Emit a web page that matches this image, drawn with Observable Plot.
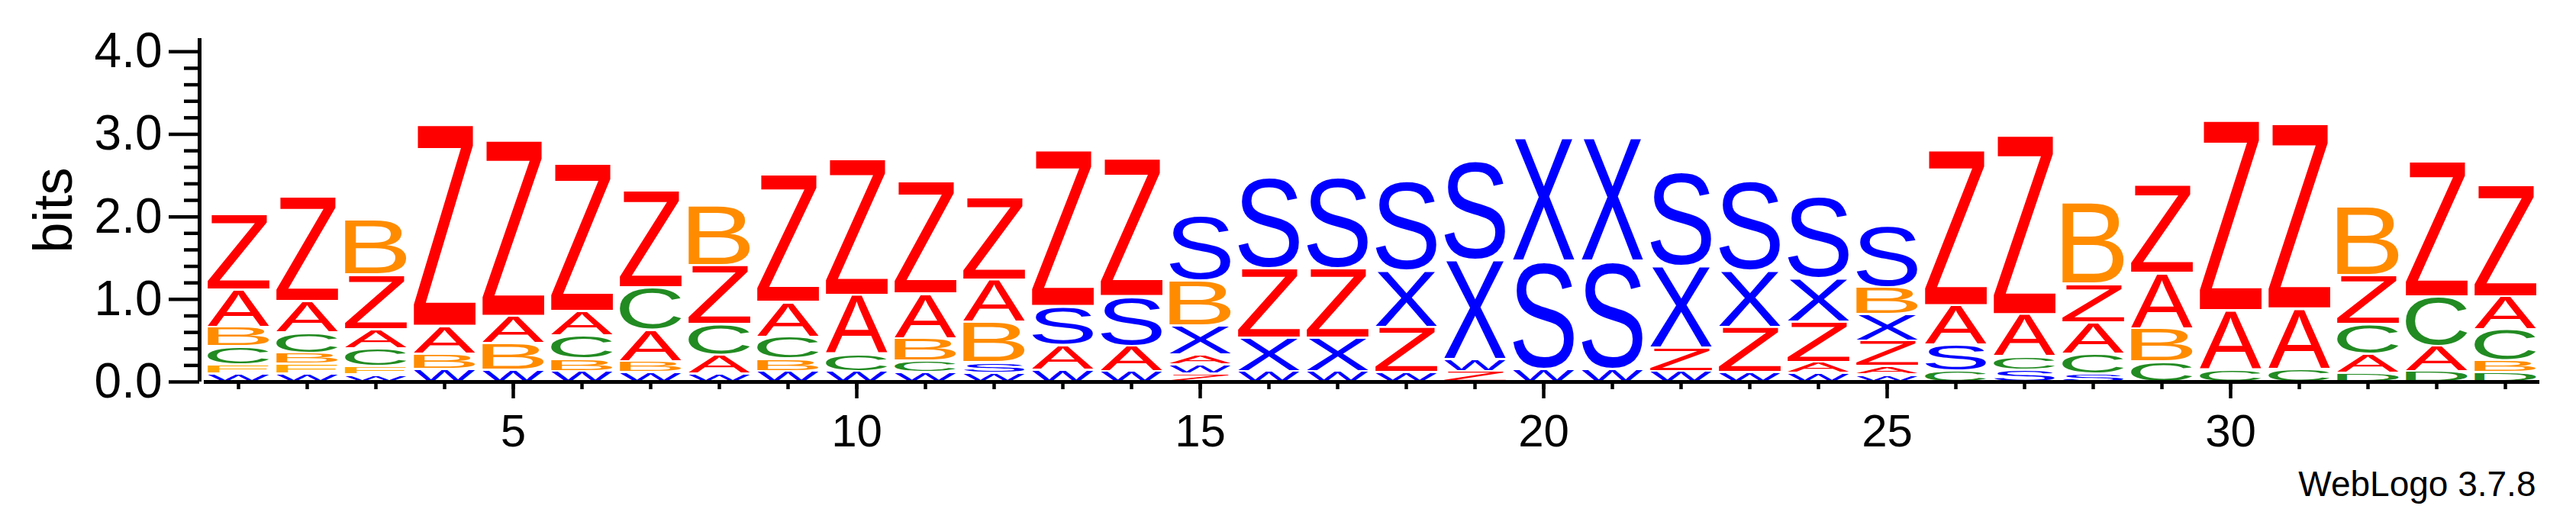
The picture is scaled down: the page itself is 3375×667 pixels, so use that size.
<!DOCTYPE html>
<html><head><meta charset="utf-8">
<script src="https://cdn.jsdelivr.net/npm/d3@7"></script>
<script src="https://cdn.jsdelivr.net/npm/@observablehq/plot@0.6"></script>
<style>
html,body{margin:0;padding:0;background:#fff;}
svg{display:block;}
</style></head><body>
<div id="chart"></div>
<script>
// sequence positions
const positions = [1,2,3,4,5,6,7,8,9,10,11,12,13,14,15,16,17,18,19,20,21,22,23,24,25,26,27,28,29,30,31,32,33,34];
// letter heights in bits, one value per position (0 = letter absent)
const heightsA = [0.45,0.38,0.23,0.34,0.33,0.30,0.38,0.23,0.42,0.71,0.54,0.51,0.30,0.31,0.12,0,0,0,0,0,0,0,0,0.13,0.10,0.48,0.51,0.38,0.67,0.72,0.73,0.23,0.31,0.40];
const heightsB = [0.24,0.13,0.67,0.18,0.32,0.15,0.13,0.72,0.15,0,0.27,0.49,0,0,0.55,0,0,0,0,0,0,0,0,0,0.33,0,0,0.99,0.40,0,0,0.83,0,0.14];
const heightsC = [0.22,0.25,0.22,0,0,0.28,0.52,0.37,0.27,0.21,0.14,0,0,0,0,0,0,0,0,0,0,0,0,0,0,0.13,0.16,0.24,0.25,0.15,0.16,0.36,0.60,0.38];
const heightsD = [0,0,0,0,0,0,0,0,0,0,0,0,0,0,0,0,0,0,0,0,0,0,0,0,0,0,0,0,0,0,0,0.11,0.13,0.12];
const heightsF = [0.11,0.12,0.10,0,0,0,0,0,0,0,0,0,0,0,0,0,0,0,0,0,0,0,0,0,0,0,0,0,0,0,0,0,0,0];
const heightsS = [0,0,0,0,0,0,0,0,0,0,0,0.13,0.47,0.60,0.79,1.11,1.11,1.10,1.22,1.31,1.31,1.15,1.10,1.00,0.76,0.32,0.15,0.10,0,0,0,0,0,0];
const heightsW = [0.10,0.10,0.09,0.16,0.15,0.13,0.12,0.10,0.13,0.13,0.12,0.11,0.15,0.13,0.11,0.13,0.13,0.12,0.15,0.16,0.16,0.13,0.12,0.11,0.09,0,0,0,0,0,0,0,0,0];
const heightsX = [0,0,0,0,0,0,0,0,0,0,0,0,0,0,0.35,0.41,0.41,0.68,1.20,1.49,1.49,0.99,0.68,0.52,0.32,0,0,0,0,0,0,0,0,0];
const heightsZ = [0.91,1.27,0.66,2.44,2.13,1.79,1.18,0.71,1.55,1.65,1.36,1.00,1.89,1.67,0.10,0.84,0.84,0.55,0.13,0,0,0.29,0.55,0.49,0.31,1.88,2.17,0.47,1.07,2.30,2.24,0.59,1.64,1.35];
// letter colours
const letterColors = {A:"#ff0000", Z:"#ff0000", B:"#ff8c00", F:"#ffa500", C:"#228b22", D:"#228b22", S:"#0000ff", W:"#0000ff", X:"#0000ff"};
// ticks and texts
const xMajorTicks = [5,10,15,20,25,30];
const yMajorTicks = [0,1,2,3,4];
const yMinorTicks = [0.2,0.4,0.6,0.8,1.2,1.4,1.6,1.8,2.2,2.4,2.6,2.8,3.2,3.4,3.6,3.8];
const yLabel = "bits";
const caption = "WebLogo 3.7.8";

const FONT = "'Liberation Sans', Arial, Helvetica, sans-serif";
const series = {A: heightsA, B: heightsB, C: heightsC, D: heightsD, F: heightsF, S: heightsS, W: heightsW, X: heightsX, Z: heightsZ};
const cells = [];
positions.forEach((p, i) => {
  const stack = Object.keys(series)
    .map(k => ({letter: k, h: series[k][i]}))
    .filter(d => d.h > 0)
    .sort((a, b) => a.h - b.h);
  let y = 0;
  for (const d of stack) { cells.push({pos: p, letter: d.letter, y1: y, y2: y + d.h}); y += d.h; }
});

const plot = Plot.plot({
  width: 3375, height: 667,
  marginLeft: 267, marginRight: 48, marginTop: 50, marginBottom: 167,
  style: {fontFamily: FONT, background: "#fff", color: "#000", overflow: "visible"},
  x: {type: "linear", domain: [0.5, 34.5]},
  y: {domain: [0, 4.16]},
  color: {type: "identity"},
  marks: [
    Plot.text(cells, {x: "pos", y: d => (d.y1 + d.y2) / 2, text: "letter", fill: d => letterColors[d.letter], fontSize: 100, fontFamily: FONT}),
    Plot.ruleY([0], {x1: 0.5, x2: 34.5, stroke: "#000", strokeWidth: 5}),
    Plot.ruleX([0.5], {y1: 0, y2: 4.16, dx: -6, stroke: "#000", strokeWidth: 5}),
    Plot.axisY(yMinorTicks, {tickSize: 20, tickFormat: () => "", dx: -6, strokeWidth: 4.5, label: null}),
    Plot.axisY(yMajorTicks, {tickSize: 40, tickPadding: 9, tickFormat: d3.format(".1f"), fontSize: 64, dx: -6, strokeWidth: 4.5, label: null}),
    Plot.axisX(positions, {tickSize: 10, tickFormat: () => "", strokeWidth: 4.5, label: null}),
    Plot.axisX(xMajorTicks, {tickSize: 22, tickPadding: 20, fontSize: 60, strokeWidth: 4.5, label: null}),
    Plot.text([yLabel], {text: d => d, frameAnchor: "left", textAnchor: "middle", lineAnchor: "middle", rotate: -90, dx: -197, fontSize: 72, fill: "#000"}),
    Plot.text([caption], {text: d => d, frameAnchor: "bottom-right", textAnchor: "end", lineAnchor: "middle", dx: -5, dy: 135, fontSize: 46, fill: "#000"})
  ]
});
document.getElementById("chart").append(plot);

// stretch each glyph so its ink fills the stack cell given by the scales
const xs = plot.scale("x"), ys = plot.scale("y");
const ctx = document.createElement("canvas").getContext("2d");
ctx.font = "100px 'Liberation Sans'";
const svgEl = plot.tagName.toLowerCase() === "svg" ? plot : plot.querySelector("svg");
const letterGroup = Array.from(svgEl.querySelectorAll("g")).find(g => g.querySelectorAll(":scope > text").length === cells.length);
const texts = letterGroup ? letterGroup.querySelectorAll(":scope > text") : [];
texts.forEach((t, i) => {
  const d = cells[i];
  const m = ctx.measureText(d.letter);
  const L = m.actualBoundingBoxLeft, R = m.actualBoundingBoxRight;
  const A = m.actualBoundingBoxAscent, D = m.actualBoundingBoxDescent;
  const x0 = xs.apply(d.pos - 0.45), x1 = xs.apply(d.pos + 0.45);
  const yTop = ys.apply(d.y2) + 1.5, yBot = ys.apply(d.y1) - 1.5;
  const sx = (x1 - x0) / (L + R), sy = Math.max(0.5, yBot - yTop) / (A + D);
  ["x", "y", "dx", "dy"].forEach(a => t.removeAttribute(a));
  t.setAttribute("text-anchor", "start");
  t.setAttribute("transform", `translate(${x0},${yTop}) scale(${sx},${sy}) translate(${L},${A})`);
});
</script>
</body></html>
